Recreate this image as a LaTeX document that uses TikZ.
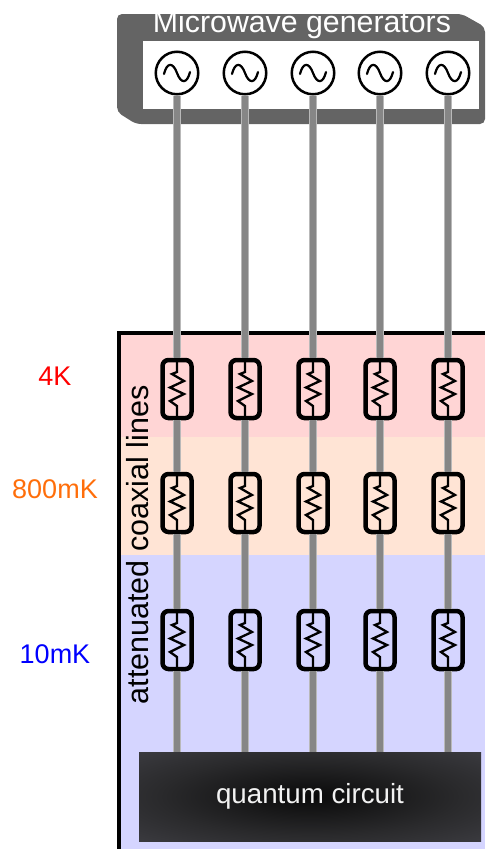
\documentclass[tikz,border=0pt]{standalone}
\usepackage{fontspec}
\setmainfont{Liberation Sans}
\definecolor{panelgray}{RGB}{100,100,100}
\definecolor{hotband}{RGB}{255,213,213}
\definecolor{midband}{RGB}{255,228,213}
\definecolor{coldband}{RGB}{213,213,255}
\definecolor{midlabel}{RGB}{255,110,10}
\definecolor{chipa}{RGB}{10,10,10}
\definecolor{chipb}{RGB}{42,42,44}
\definecolor{chipc}{RGB}{66,66,72}
\definecolor{chipd}{RGB}{92,92,102}
\pgfdeclareradialshading{chipglow}{\pgfpoint{0bp}{0bp}}{color(0bp)=(chipa); color(22bp)=(chipb); color(42bp)=(chipc); color(70bp)=(chipd)}
\begin{document}
\begin{tikzpicture}[x = 1pt, y = -1pt]
    \tikzstyle{generator} = [draw, circle, line width = 2.5pt, fill = white, minimum size = 42.5pt, inner sep = 0pt,
      path picture = {\draw[line width = 2.2pt, line cap = round] ([shift = {(-13pt,-1pt)}]path picture bounding box.center)
        .. controls ([shift = {(-10pt,11pt)}]path picture bounding box.center) and ([shift = {(-4pt,11pt)}]path picture bounding box.center) .. (path picture bounding box.center)
        .. controls ([shift = {(4pt,-11pt)}]path picture bounding box.center) and ([shift = {(10pt,-11pt)}]path picture bounding box.center) .. ([shift = {(13pt,1pt)}]path picture bounding box.center);}];
    \tikzstyle{attenuator} = [draw, rectangle, rounded corners = 6pt, line width = 4.5pt, minimum width = 29pt, minimum height = 58pt, inner sep = 0pt,
      path picture = {\draw[line width = 2.3pt, sharp corners] ([yshift = 32pt]path picture bounding box.center) -- ++(0,-15pt) -- ++(-5pt,-2pt) -- ++(12pt,-7pt) -- ++(-14pt,-6.5pt) -- ++(14pt,-6.5pt) -- ++(-14pt,-7pt) -- ++(7pt,-5pt) -- ++(0,-15pt);}];
    \tikzstyle{coax} = [draw = gray!95, line width = 6pt, preaction = {draw = gray!55, line width = 8pt}];
    \tikzstyle{templabel} = [font = \fontsize{27}{32}\selectfont];
    \useasboundingbox (0,0) rectangle (485,849);
    % bands:
    \fill[hotband] (119,333) rectangle (485,437);
    \fill[midband] (119,437) rectangle (485,555);
    \fill[coldband] (119,555) rectangle (485,849);
    \draw[line width = 4pt] (119,849) -- (119,333) -- (485,333);
    % generator panel:
    \fill[panelgray, rounded corners = 5pt] (117,14) -- (117,112) -- (136,124) -- (485,124) -- (485,27) -- (462,14) -- cycle;
    \fill[white] (143,41) rectangle (479,109);
    \node[text = white, inner sep = 0pt, font = \fontsize{30.3}{36}\selectfont] (title) at (302,25){Microwave generators};
    % generators:
    \node[generator] (g1) at (177,73){};
    \node[generator] (g2) at (245,73){};
    \node[generator] (g3) at (313,73){};
    \node[generator] (g4) at (380,73){};
    \node[generator] (g5) at (448,73){};
    % attenuators, 4K:
    \node[attenuator] (a1) at (177,389){};
    \node[attenuator] (a2) at (245,389){};
    \node[attenuator] (a3) at (313,389){};
    \node[attenuator] (a4) at (380,389){};
    \node[attenuator] (a5) at (448,389){};
    % attenuators, 800mK:
    \node[attenuator] (b1) at (177,503){};
    \node[attenuator] (b2) at (245,503){};
    \node[attenuator] (b3) at (313,503){};
    \node[attenuator] (b4) at (380,503){};
    \node[attenuator] (b5) at (448,503){};
    % attenuators, 10mK:
    \node[attenuator] (c1) at (177,640){};
    \node[attenuator] (c2) at (245,640){};
    \node[attenuator] (c3) at (313,640){};
    \node[attenuator] (c4) at (380,640){};
    \node[attenuator] (c5) at (448,640){};
    % chip:
    \node[rectangle, inner sep = 0pt, minimum width = 342pt, minimum height = 89pt, shading = chipglow, text = white!95!black,
      font = \fontsize{27.7}{32}\selectfont] (chip) at (310,796.5){quantum circuit};
    % lines:
    \path[coax] (g1) -- (a1); \path[coax] (a1) -- (b1); \path[coax] (b1) -- (c1); \path[coax] (c1) -- (g1 |- chip.north);
    \path[coax] (g2) -- (a2); \path[coax] (a2) -- (b2); \path[coax] (b2) -- (c2); \path[coax] (c2) -- (g2 |- chip.north);
    \path[coax] (g3) -- (a3); \path[coax] (a3) -- (b3); \path[coax] (b3) -- (c3); \path[coax] (c3) -- (g3 |- chip.north);
    \path[coax] (g4) -- (a4); \path[coax] (a4) -- (b4); \path[coax] (b4) -- (c4); \path[coax] (c4) -- (g4 |- chip.north);
    \path[coax] (g5) -- (a5); \path[coax] (a5) -- (b5); \path[coax] (b5) -- (c5); \path[coax] (c5) -- (g5 |- chip.north);
    % labels:
    \node[rotate = 90, inner sep = 0pt, font = \fontsize{30.5}{36}\selectfont] (side) at (138,545){attenuated coaxial lines};
    \node[templabel, text = red] (t4K) at (55,376){4K};
    \node[templabel, text = midlabel] (t800) at (55,489){800mK};
    \node[templabel, text = blue] (t10) at (55,654){10mK};
\end{tikzpicture}
\end{document}
